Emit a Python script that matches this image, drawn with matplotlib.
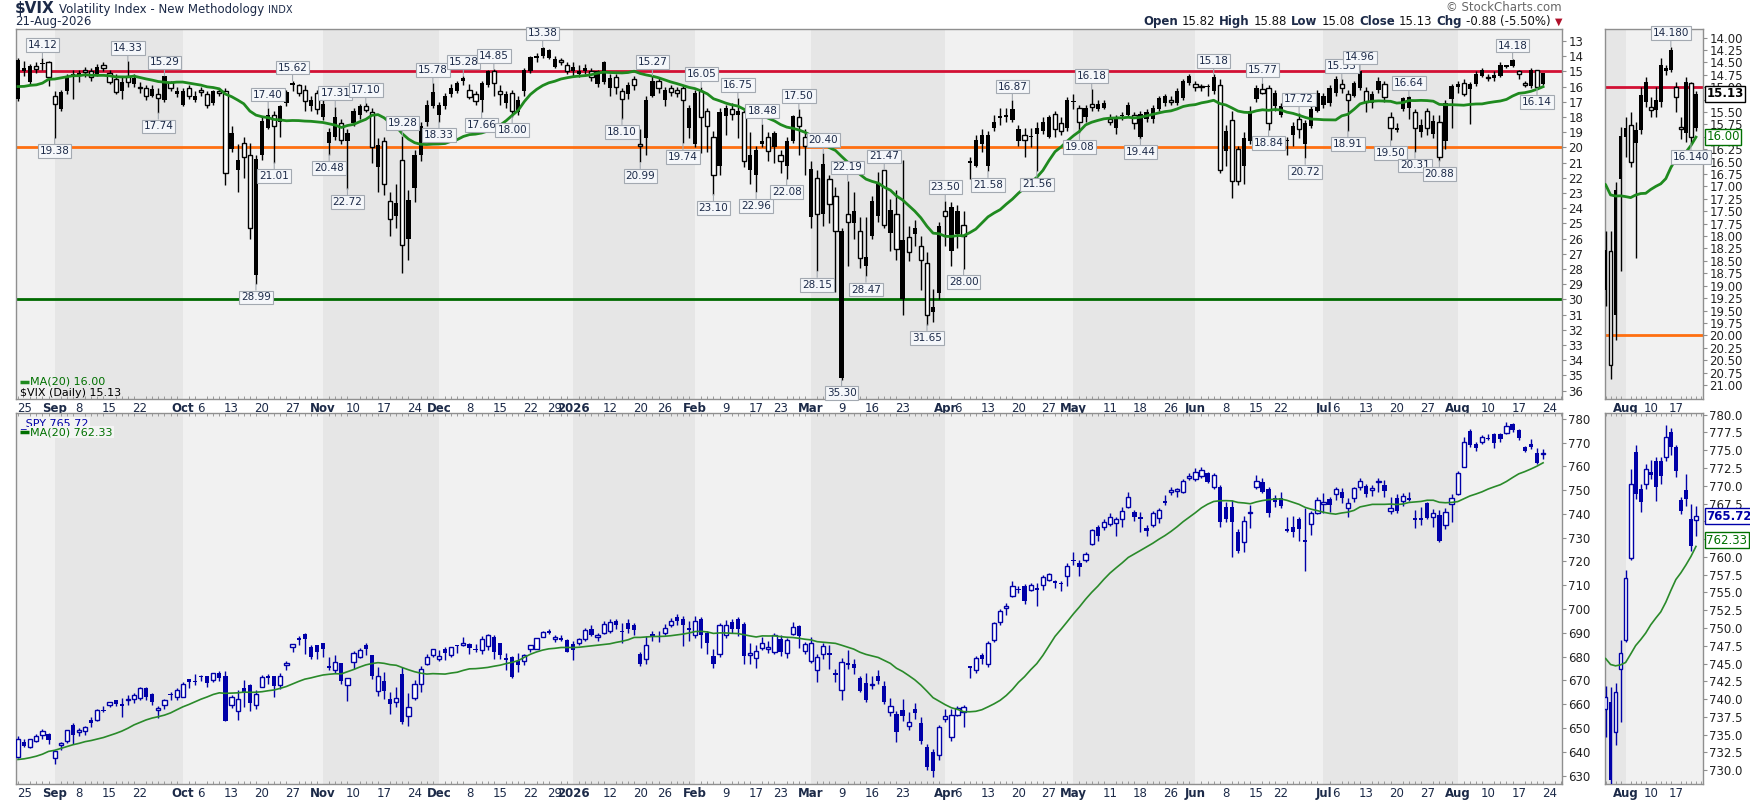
import numpy as np
import pandas as pd
import matplotlib
matplotlib.use("Agg")
import matplotlib.pyplot as plt

W, H = 1750, 800

# trading days on the chart: 22-Aug-2025 .. 21-Aug-2026
holidays = ["2025-09-01", "2025-11-27", "2025-12-25", "2026-01-01", "2026-01-19",
            "2026-02-16", "2026-04-03", "2026-05-25", "2026-06-19", "2026-07-03"]
days = pd.bdate_range("2025-08-22", "2026-08-21")
days = days[~days.isin(pd.to_datetime(holidays))]

# ---- $VIX daily candles ----
vix_open = [
    16.80, 15.00, 15.70, 14.62, 14.50, 14.40, 16.60, 17.50, 16.30, 15.40,
    15.30, 14.90, 15.00, 15.20, 14.60, 15.10, 15.50, 16.30, 15.30, 15.80,
    16.00, 16.10, 16.60, 16.50, 16.90, 15.70, 16.50, 17.20, 16.10, 16.90,
    16.20, 16.50, 17.10, 16.30, 16.30, 20.10, 21.50, 19.70, 20.50, 28.40,
    20.50, 18.70, 17.90, 18.30, 17.10, 15.90, 15.90, 16.20, 17.30, 16.40,
    18.00, 19.70, 19.30, 18.40, 19.60, 18.40, 17.90, 17.30, 17.70, 21.30,
    19.60, 23.50, 24.50, 20.80, 26.00, 22.70, 20.50, 18.30, 17.30, 17.90,
    17.30, 16.50, 16.30, 15.60, 16.20, 16.50, 16.90, 15.90, 14.95, 16.30,
    17.10, 16.40, 17.70, 16.30, 15.00, 14.10, 14.00, 14.10, 14.70, 14.30,
    14.60, 15.00, 15.15, 15.00, 14.99, 15.80, 15.70, 16.10, 15.40, 16.30,
    16.50, 15.50, 19.80, 19.40, 16.60, 15.65, 16.90, 16.10, 16.20, 16.10,
    18.70, 19.80, 16.30, 17.60, 19.30, 21.20, 17.95, 17.50, 17.90, 17.70,
    21.50, 21.80, 19.80, 19.30, 20.00, 20.50, 21.20, 19.55, 18.00, 19.30,
    24.60, 22.00, 24.40, 22.10, 23.20, 35.20, 24.40, 25.00, 25.50, 27.80,
    25.80, 24.50, 21.50, 25.60, 24.40, 30.00, 25.90, 25.70, 26.50, 27.60,
    30.80, 29.60, 24.20, 26.80, 25.70, 25.10, 21.00, 21.20, 19.80, 21.20,
    18.70, 18.00, 18.00, 18.20, 19.60, 19.20, 19.30, 19.10, 18.90, 19.30,
    17.80, 18.40, 18.70, 17.00, 17.40, 18.00, 17.14, 17.50, 17.40, 18.15,
    18.70, 17.95, 17.90, 17.90, 19.30, 18.10, 18.10, 17.50, 17.10, 16.85,
    17.10, 16.75, 15.75, 15.80, 16.00, 16.00, 16.30, 15.90, 20.25, 18.20,
    20.10, 21.20, 19.60, 16.80, 16.15, 16.10, 17.30, 17.90, 19.60, 19.20,
    18.10, 19.80, 18.60, 17.60, 17.20, 17.10, 16.40, 15.80, 16.50, 16.60,
    16.10, 16.30, 17.10, 16.20, 15.80, 18.00, 18.85, 17.50, 17.40, 17.70,
    19.00, 17.60, 19.09, 18.30, 19.59, 16.84, 16.00, 15.76, 16.13, 15.86,
    15.29, 15.39, 15.45, 15.29, 14.68, 14.65, 14.99, 15.80, 15.93, 14.92,
    15.82]
vix_high = [
    16.95, 15.30, 15.90, 15.10, 14.90, 15.98, 19.38, 17.60, 16.50, 16.80,
    15.70, 15.40, 15.60, 15.30, 15.00, 15.80, 16.50, 16.80, 16.00, 16.00,
    16.40, 16.90, 16.70, 17.74, 17.00, 16.30, 16.70, 17.30, 16.80, 17.00,
    16.60, 17.40, 17.20, 16.60, 22.44, 20.30, 22.90, 22.00, 26.00, 28.99,
    20.80, 18.80, 21.01, 19.30, 17.30, 16.30, 16.60, 17.60, 17.60, 17.80,
    18.20, 20.48, 19.50, 19.80, 22.72, 18.60, 18.10, 17.70, 21.00, 22.90,
    23.10, 25.80, 25.30, 28.27, 27.40, 23.60, 20.90, 18.60, 17.40, 18.33,
    17.50, 16.70, 16.40, 15.90, 16.80, 17.20, 17.66, 16.00, 16.60, 17.20,
    17.40, 18.00, 17.90, 16.60, 15.10, 14.40, 14.10, 14.20, 14.80, 14.60,
    15.20, 15.30, 15.40, 15.20, 15.60, 16.00, 15.80, 16.60, 16.50, 18.10,
    16.80, 16.20, 20.99, 20.50, 16.70, 16.40, 17.30, 16.60, 16.70, 19.74,
    19.40, 20.00, 20.40, 20.30, 23.10, 21.80, 19.20, 18.20, 19.40, 21.30,
    22.40, 22.96, 20.00, 20.90, 21.00, 21.70, 22.08, 19.70, 20.50, 21.80,
    25.30, 28.15, 25.20, 25.00, 29.50, 35.30, 27.80, 26.00, 27.90, 28.47,
    26.00, 24.90, 25.30, 26.80, 27.40, 31.00, 27.50, 26.50, 29.40, 31.65,
    31.50, 30.00, 26.50, 27.80, 26.60, 28.00, 22.10, 21.30, 20.30, 21.58,
    18.90, 18.50, 18.30, 18.30, 19.90, 20.60, 20.00, 21.56, 19.10, 19.40,
    19.30, 19.20, 18.90, 17.50, 19.08, 18.30, 17.60, 17.60, 17.50, 18.50,
    19.10, 18.20, 18.00, 18.80, 19.44, 18.30, 18.40, 17.60, 17.30, 17.20,
    17.20, 16.90, 15.90, 16.30, 16.30, 16.60, 16.50, 21.70, 21.20, 23.30,
    22.50, 22.40, 19.80, 17.00, 16.50, 18.84, 17.60, 18.00, 20.50, 19.90,
    19.40, 20.72, 18.70, 17.70, 17.40, 17.30, 16.60, 16.40, 18.91, 16.70,
    16.20, 17.70, 17.40, 16.40, 17.00, 19.50, 19.00, 17.60, 18.10, 20.31,
    19.30, 19.20, 19.40, 20.88, 20.10, 18.70, 16.40, 16.60, 18.45, 15.95,
    15.40, 15.60, 15.60, 15.40, 14.75, 14.70, 15.50, 16.05, 16.10, 16.14,
    15.88]
vix_low = [
    14.10, 14.30, 14.50, 14.40, 14.12, 14.30, 16.30, 16.20, 15.20, 14.90,
    14.90, 14.70, 14.80, 14.50, 14.40, 14.90, 15.20, 15.40, 14.33, 15.20,
    15.70, 15.90, 15.90, 16.10, 15.29, 15.60, 16.00, 16.10, 15.90, 16.30,
    16.00, 16.30, 16.20, 16.10, 16.10, 18.60, 19.80, 19.30, 19.70, 20.50,
    18.00, 17.40, 17.60, 17.20, 16.20, 15.62, 15.80, 15.90, 16.60, 16.20,
    16.80, 18.70, 17.31, 18.10, 18.80, 17.40, 17.15, 17.10, 17.40, 19.40,
    19.30, 22.90, 22.40, 19.28, 22.80, 20.20, 18.30, 16.90, 15.78, 17.00,
    16.40, 15.80, 15.60, 15.28, 15.80, 16.30, 15.60, 14.90, 14.85, 15.90,
    16.30, 16.20, 16.60, 14.80, 14.00, 13.80, 13.38, 13.50, 14.00, 14.10,
    14.40, 14.40, 14.60, 14.50, 14.80, 14.90, 14.30, 15.20, 15.20, 16.10,
    15.70, 15.30, 18.80, 16.60, 15.27, 15.40, 16.00, 15.90, 16.00, 15.90,
    17.20, 16.20, 16.05, 17.40, 18.90, 17.40, 17.20, 17.10, 16.75, 17.40,
    19.00, 19.90, 18.48, 19.00, 18.90, 20.20, 19.30, 17.90, 17.50, 18.80,
    20.90, 21.50, 20.40, 21.80, 22.60, 25.30, 22.19, 22.90, 24.60, 24.60,
    23.20, 21.60, 21.47, 23.40, 22.80, 20.80, 25.20, 24.80, 25.80, 26.90,
    29.30, 24.90, 23.50, 23.60, 23.80, 24.20, 20.60, 19.20, 18.80, 18.90,
    17.90, 17.40, 17.40, 16.87, 18.50, 18.70, 18.70, 18.30, 18.00, 17.90,
    17.60, 18.00, 16.70, 16.50, 17.20, 17.20, 16.18, 16.90, 16.90, 17.80,
    17.90, 17.70, 17.00, 17.70, 17.60, 17.50, 17.20, 16.60, 16.50, 16.60,
    16.10, 15.50, 15.20, 15.60, 15.80, 15.80, 15.18, 15.50, 18.50, 17.60,
    19.90, 19.00, 17.30, 15.90, 15.77, 15.90, 16.20, 17.10, 19.30, 18.30,
    17.72, 18.20, 17.10, 16.20, 16.40, 15.90, 15.30, 15.53, 16.20, 15.60,
    14.96, 16.00, 16.30, 15.40, 15.60, 17.70, 18.40, 16.70, 16.64, 17.50,
    18.10, 17.40, 17.90, 17.90, 16.90, 15.80, 15.60, 15.50, 15.70, 15.00,
    14.80, 15.20, 15.00, 14.40, 14.55, 14.18, 14.90, 15.60, 14.80, 14.90,
    15.08]
vix_close = [
    14.22, 14.79, 14.62, 14.85, 14.43, 15.36, 17.17, 16.35, 15.30, 15.18,
    15.11, 15.04, 15.35, 14.71, 14.76, 15.69, 16.36, 15.72, 15.70, 15.45,
    16.10, 16.64, 16.18, 16.74, 15.29, 16.12, 16.28, 16.29, 16.63, 16.65,
    16.37, 17.24, 16.30, 16.43, 21.66, 19.03, 20.81, 20.64, 25.31, 20.78,
    18.23, 17.87, 18.60, 17.30, 16.37, 15.79, 16.42, 16.92, 16.91, 17.44,
    17.17, 19.00, 18.01, 19.50, 19.08, 17.60, 17.28, 17.51, 20.00, 19.83,
    22.38, 24.69, 23.66, 26.42, 23.43, 20.52, 18.56, 17.19, 16.35, 17.24,
    16.59, 16.08, 15.78, 15.41, 16.66, 16.93, 15.77, 14.95, 15.74, 16.50,
    16.48, 17.62, 16.87, 14.91, 14.08, 14.00, 13.47, 13.60, 14.20, 14.33,
    14.95, 14.70, 14.95, 14.80, 15.40, 15.00, 14.40, 15.45, 16.00, 16.80,
    15.90, 15.90, 19.90, 16.85, 15.65, 16.10, 16.20, 16.35, 16.40, 16.85,
    17.40, 16.40, 18.00, 18.60, 21.80, 17.70, 17.40, 17.80, 17.60, 20.90,
    20.50, 20.20, 19.60, 20.25, 19.05, 20.90, 19.55, 17.95, 18.60, 19.90,
    21.40, 24.40, 21.10, 23.70, 25.50, 25.50, 24.90, 24.20, 27.30, 27.20,
    23.50, 22.40, 25.10, 24.10, 26.70, 26.10, 26.90, 25.30, 27.40, 31.00,
    30.50, 25.20, 24.50, 23.90, 24.20, 25.80, 20.90, 19.50, 19.20, 19.20,
    18.35, 18.00, 17.90, 17.50, 18.80, 19.50, 19.30, 18.70, 18.30, 18.00,
    18.80, 18.90, 16.90, 16.95, 18.30, 17.40, 17.36, 17.14, 17.10, 18.30,
    18.05, 17.85, 17.20, 18.40, 17.80, 17.70, 17.40, 16.75, 16.60, 17.00,
    16.30, 15.65, 15.30, 16.05, 16.02, 15.95, 15.40, 21.50, 18.95, 22.20,
    22.20, 19.40, 17.60, 16.10, 16.40, 18.40, 16.40, 17.30, 19.50, 18.60,
    18.80, 18.40, 17.50, 16.40, 16.60, 16.10, 15.50, 16.10, 16.90, 15.75,
    15.00, 17.00, 16.50, 15.60, 16.70, 18.70, 18.70, 16.75, 16.70, 18.70,
    18.50, 18.70, 18.28, 20.60, 17.08, 15.99, 15.83, 16.50, 15.86, 15.16,
    14.89, 15.46, 15.26, 14.55, 14.62, 14.25, 15.19, 15.85, 14.89, 16.01,
    15.13]
# closes of the 19 sessions before the window (for the first MA values)
vix_prev_close = [15.03, 15.98, 15.48, 16.72, 20.38, 17.52, 17.85, 16.77, 16.57, 15.15,
                  16.25, 14.73, 14.49, 14.83, 15.09, 14.99, 15.57, 15.69, 16.60]

# ---- SPY daily candles ----
spy_open = [
    637.8, 644.0, 642.2, 644.6, 647.2, 647.5, 637.5, 642.7, 644.4, 651.5,
    648.6, 648.7, 653.6, 653.6, 657.6, 659.6, 661.6, 660.0, 661.7, 662.3,
    662.8, 666.7, 664.5, 657.9, 659.5, 664.4, 662.9, 663.2, 670.5, 669.9,
    671.7, 672.0, 670.0, 673.3, 672.0, 659.6, 657.2, 666.8, 668.0, 659.5,
    667.3, 671.5, 672.0, 668.1, 676.5, 684.0, 688.0, 689.5, 683.9, 685.0,
    685.7, 676.1, 674.2, 677.3, 667.9, 677.9, 679.9, 685.0, 680.5, 665.4,
    669.6, 662.1, 660.8, 672.9, 655.0, 662.7, 668.6, 677.0, 680.7, 679.1,
    683.1, 680.5, 685.0, 685.0, 685.5, 683.1, 683.0, 684.5, 688.2, 685.7,
    679.2, 679.9, 678.0, 678.3, 683.2, 683.4, 688.3, 690.5, 687.7, 688.0,
    687.0, 685.5, 685.9, 687.3, 691.5, 688.2, 690.0, 691.0, 695.0, 691.0,
    694.0, 693.4, 681.3, 679.2, 689.6, 688.6, 689.8, 693.5, 696.6, 695.9,
    692.0, 689.1, 695.9, 690.0, 680.3, 681.0, 689.1, 694.5, 695.9, 693.8,
    681.0, 679.3, 683.5, 683.2, 682.0, 687.5, 681.7, 689.6, 692.8, 682.4,
    678.2, 674.4, 681.3, 681.7, 673.0, 666.1, 677.5, 677.1, 671.0, 669.1,
    668.0, 671.9, 667.7, 656.6, 655.9, 657.7, 651.0, 658.2, 652.0, 642.2,
    639.8, 638.5, 653.8, 646.1, 655.6, 656.6, 676.1, 674.4, 680.6, 676.8,
    686.9, 694.5, 700.4, 705.4, 708.5, 709.6, 708.2, 708.9, 710.3, 712.4,
    711.5, 711.0, 714.0, 720.5, 719.3, 720.7, 727.4, 734.3, 734.3, 735.7,
    736.1, 737.8, 743.1, 741.0, 738.9, 734.0, 735.4, 738.2, 745.6, 749.3,
    749.6, 749.3, 755.4, 754.5, 756.0, 757.3, 751.4, 751.4, 742.8, 742.8,
    732.6, 728.0, 740.3, 751.1, 753.5, 750.4, 746.7, 746.5, 733.3, 734.4,
    737.9, 728.7, 735.8, 740.5, 744.4, 746.2, 748.2, 749.3, 742.3, 746.5,
    751.4, 751.8, 749.9, 753.6, 752.1, 741.4, 746.5, 745.6, 746.3, 738.2,
    738.3, 744.4, 738.6, 739.6, 735.4, 744.2, 748.3, 759.8, 774.8, 769.5,
    770.2, 771.9, 773.5, 773.5, 774.0, 777.6, 775.4, 768.0, 769.4, 765.4,
    765.2]
spy_high = [
    646.5, 645.3, 645.5, 647.4, 649.5, 647.8, 640.5, 644.2, 649.2, 652.2,
    649.9, 650.9, 654.6, 658.0, 659.1, 661.0, 661.8, 662.8, 664.0, 664.6,
    667.3, 667.3, 664.6, 659.3, 662.4, 665.3, 666.7, 669.4, 670.6, 672.7,
    672.5, 672.0, 673.2, 673.9, 673.9, 664.0, 665.8, 670.2, 668.7, 665.8,
    672.2, 672.8, 672.0, 673.1, 678.0, 685.5, 688.9, 690.1, 685.0, 685.1,
    685.8, 679.9, 680.9, 677.4, 671.1, 682.2, 683.6, 685.6, 680.9, 675.7,
    673.7, 665.1, 667.3, 675.6, 664.6, 670.4, 676.2, 681.0, 683.3, 682.9,
    684.0, 684.0, 685.0, 688.4, 685.9, 685.2, 688.9, 689.4, 689.0, 685.8,
    681.6, 680.2, 681.7, 681.2, 684.8, 688.0, 690.7, 691.7, 689.0, 689.3,
    687.4, 686.6, 688.0, 692.0, 693.2, 690.0, 694.9, 695.9, 696.0, 694.0,
    696.0, 694.3, 682.0, 688.7, 691.0, 690.6, 693.7, 696.2, 698.0, 697.0,
    695.0, 697.0, 696.5, 691.0, 683.1, 694.3, 695.3, 696.0, 696.7, 694.5,
    685.9, 685.0, 688.4, 686.5, 690.0, 689.0, 688.0, 694.6, 693.5, 686.2,
    688.4, 681.0, 685.9, 684.9, 674.8, 679.6, 682.8, 679.2, 672.0, 673.3,
    671.9, 674.4, 669.8, 662.8, 657.0, 662.4, 656.9, 660.7, 654.5, 643.1,
    641.0, 651.4, 658.2, 658.2, 659.4, 659.7, 676.1, 680.3, 681.7, 686.5,
    694.6, 700.0, 702.5, 711.7, 709.6, 710.6, 711.0, 711.0, 714.5, 715.2,
    712.4, 711.7, 719.3, 724.2, 720.7, 724.2, 733.8, 735.4, 737.8, 740.3,
    738.5, 743.1, 749.1, 741.7, 740.7, 735.4, 741.4, 742.5, 747.9, 751.4,
    750.7, 754.8, 757.0, 759.1, 759.5, 757.7, 757.3, 752.0, 745.1, 745.8,
    733.8, 739.3, 743.6, 756.2, 754.9, 751.4, 748.0, 749.3, 738.9, 739.1,
    738.5, 742.3, 741.3, 747.2, 748.6, 747.2, 751.4, 750.7, 746.5, 751.5,
    755.0, 752.5, 752.1, 754.9, 754.2, 746.9, 748.2, 748.6, 749.3, 741.7,
    743.0, 745.1, 741.9, 741.7, 742.3, 748.3, 758.1, 772.3, 775.8, 770.2,
    773.0, 773.7, 774.0, 774.0, 778.6, 778.2, 775.8, 768.4, 771.6, 767.5,
    767.1]
spy_low = [
    637.3, 641.9, 641.6, 644.2, 645.5, 643.1, 634.9, 640.9, 643.7, 643.3,
    646.5, 647.2, 650.6, 652.9, 656.9, 658.8, 659.1, 654.7, 659.8, 660.4,
    662.0, 661.9, 659.7, 654.4, 657.9, 661.9, 661.6, 663.1, 666.8, 668.2,
    669.6, 667.4, 669.4, 669.7, 652.8, 658.3, 653.2, 658.9, 657.1, 658.1,
    667.3, 668.6, 663.2, 666.5, 674.4, 682.1, 684.8, 681.2, 679.2, 679.2,
    679.9, 674.6, 673.2, 668.6, 661.2, 675.0, 679.4, 680.9, 670.5, 663.6,
    662.2, 655.9, 658.7, 651.9, 650.8, 661.6, 665.1, 676.5, 680.0, 678.0,
    678.5, 680.0, 681.5, 684.3, 681.0, 681.8, 681.0, 683.0, 679.1, 679.0,
    674.5, 671.2, 673.6, 676.3, 681.9, 683.1, 688.2, 689.5, 686.3, 686.7,
    681.8, 678.5, 685.0, 686.5, 688.5, 686.5, 689.5, 690.0, 691.5, 685.8,
    690.0, 689.0, 676.0, 677.0, 686.5, 686.0, 689.0, 692.5, 693.2, 684.5,
    686.6, 688.0, 683.8, 681.0, 675.1, 680.0, 688.0, 690.0, 688.7, 676.8,
    676.8, 675.1, 682.8, 681.4, 681.0, 680.3, 679.3, 689.0, 683.8, 681.0,
    677.2, 669.4, 678.9, 675.0, 669.4, 661.9, 674.7, 672.6, 665.0, 661.0,
    666.3, 668.4, 660.0, 654.9, 644.0, 653.1, 649.3, 653.8, 643.5, 632.2,
    629.4, 636.5, 652.7, 644.7, 654.9, 650.3, 671.0, 673.3, 676.8, 675.8,
    686.0, 693.5, 697.7, 705.0, 706.8, 702.0, 707.5, 701.5, 708.2, 711.7,
    708.9, 707.8, 709.9, 718.6, 714.0, 719.8, 726.8, 728.7, 733.4, 735.0,
    730.8, 734.7, 742.5, 737.2, 732.6, 730.8, 734.5, 736.1, 743.7, 747.9,
    747.2, 748.6, 754.2, 754.0, 754.9, 752.8, 750.3, 734.7, 736.8, 721.7,
    723.5, 723.8, 734.0, 750.3, 748.6, 738.5, 743.1, 742.4, 732.6, 730.2,
    728.8, 715.8, 731.2, 740.0, 740.3, 740.7, 746.0, 744.4, 738.9, 745.0,
    750.0, 747.0, 747.7, 749.3, 747.2, 740.0, 740.3, 743.3, 745.6, 734.0,
    735.4, 737.8, 734.7, 728.1, 733.6, 736.8, 748.0, 759.5, 768.2, 766.3,
    769.5, 770.9, 767.9, 770.2, 773.5, 774.4, 771.2, 766.0, 767.2, 760.8,
    762.9]
spy_close = [
    645.3, 642.5, 645.2, 646.8, 648.9, 645.1, 640.3, 643.7, 649.1, 647.2,
    648.8, 650.3, 652.2, 657.6, 657.4, 660.9, 660.0, 659.2, 662.3, 663.7,
    666.8, 663.2, 661.1, 658.1, 661.8, 663.7, 666.2, 668.5, 669.2, 669.2,
    671.6, 669.1, 673.1, 671.2, 653.0, 663.0, 662.2, 665.2, 660.6, 664.4,
    671.3, 671.3, 667.8, 671.8, 677.3, 685.2, 687.1, 687.4, 679.8, 682.1,
    683.3, 675.2, 677.6, 669.9, 671.0, 681.4, 683.0, 683.4, 672.0, 671.9,
    665.7, 660.1, 662.6, 652.5, 659.0, 668.7, 675.0, 679.7, 683.4, 680.3,
    681.5, 683.9, 684.4, 685.7, 683.6, 683.0, 687.6, 689.2, 681.8, 680.7,
    678.9, 671.4, 676.5, 680.6, 684.8, 688.0, 690.4, 690.3, 687.9, 687.0,
    681.9, 683.0, 687.3, 691.2, 689.0, 689.2, 693.7, 694.6, 693.3, 690.3,
    691.6, 691.2, 676.8, 684.9, 688.2, 688.2, 692.0, 695.0, 695.0, 693.5,
    691.3, 695.0, 689.1, 685.9, 676.8, 693.4, 693.3, 691.5, 691.5, 680.3,
    681.4, 682.5, 685.9, 684.1, 689.1, 682.0, 687.0, 692.4, 688.7, 685.4,
    685.9, 679.9, 684.5, 680.7, 672.5, 677.8, 676.5, 675.4, 665.6, 661.9,
    668.4, 669.8, 660.8, 659.4, 648.2, 655.2, 652.7, 656.3, 644.4, 633.6,
    631.8, 650.3, 654.9, 655.5, 658.4, 659.0, 675.4, 679.3, 678.9, 685.9,
    694.0, 699.4, 701.5, 709.6, 708.2, 703.3, 710.3, 707.9, 713.5, 714.7,
    711.2, 710.7, 718.0, 720.3, 717.5, 723.1, 733.3, 730.8, 736.8, 738.5,
    737.8, 741.4, 747.2, 738.6, 738.0, 732.9, 740.5, 741.7, 744.4, 750.0,
    750.3, 753.9, 755.6, 757.7, 758.4, 753.5, 756.4, 736.8, 737.8, 736.4,
    724.6, 737.2, 740.8, 753.8, 749.3, 740.3, 745.1, 743.3, 733.0, 732.6,
    733.6, 728.4, 740.3, 745.8, 744.9, 743.7, 750.3, 746.8, 744.7, 751.0,
    753.8, 748.3, 751.0, 753.8, 749.6, 742.6, 741.2, 747.5, 746.1, 737.5,
    737.6, 738.2, 740.3, 728.7, 741.0, 746.5, 757.0, 770.2, 768.8, 767.7,
    772.3, 771.5, 769.8, 771.4, 776.8, 775.4, 772.1, 766.5, 768.1, 761.5,
    765.72]
spy_prev_close = [636.9, 635.3, 634.5, 632.1, 621.7, 631.2, 628.0, 632.8, 632.3, 637.2,
                  635.9, 642.7, 644.9, 645.0, 643.4, 643.3, 639.8, 638.1, 635.6]

# sessions that carry a high/low tag on the VIX panel
low_mark_day = [4, 18, 24, 41, 45, 52, 57, 63, 68, 73, 78, 86, 104, 112, 118, 122, 128,
                132, 136, 142, 152, 163, 176, 196, 204, 210, 217, 220, 228, 245]
high_mark_day = [6, 23, 39, 42, 51, 54, 69, 76, 81, 99, 102, 109, 114, 121, 126, 131, 135,
                 139, 149, 155, 159, 167, 174, 184, 205, 211, 218, 225, 229, 233, 249]

tick_dates = ["2025-08-25", "2025-09-02", "2025-09-08", "2025-09-15", "2025-09-22",
              "2025-10-01", "2025-10-06", "2025-10-13", "2025-10-20", "2025-10-27",
              "2025-11-03", "2025-11-10", "2025-11-17", "2025-11-24", "2025-12-01",
              "2025-12-08", "2025-12-15", "2025-12-22", "2025-12-29", "2026-01-02",
              "2026-01-12", "2026-01-20", "2026-01-26", "2026-02-02", "2026-02-09",
              "2026-02-17", "2026-02-23", "2026-03-02", "2026-03-09", "2026-03-16",
              "2026-03-23", "2026-04-01", "2026-04-06", "2026-04-13", "2026-04-20",
              "2026-04-27", "2026-05-01", "2026-05-11", "2026-05-18", "2026-05-26",
              "2026-06-01", "2026-06-08", "2026-06-15", "2026-06-22", "2026-07-01",
              "2026-07-06", "2026-07-13", "2026-07-20", "2026-07-27", "2026-08-03",
              "2026-08-10", "2026-08-17", "2026-08-24"]
tick_text = ["25", "Sep", "8", "15", "22", "Oct", "6", "13", "20", "27", "Nov", "10", "17",
             "24", "Dec", "8", "15", "22", "29", "2026", "12", "20", "26", "Feb", "9", "17",
             "23", "Mar", "9", "16", "23", "Apr", "6", "13", "20", "27", "May", "11", "18",
             "26", "Jun", "8", "15", "22", "Jul", "6", "13", "20", "27", "Aug", "10", "17", "24"]

vix_o, vix_h, vix_l, vix_c = map(np.array, (vix_open, vix_high, vix_low, vix_close))
spy_o, spy_h, spy_l, spy_c = map(np.array, (spy_open, spy_high, spy_low, spy_close))
vix_ma = pd.Series(np.r_[vix_prev_close, vix_c]).rolling(20).mean().values[19:]
spy_ma = pd.Series(np.r_[spy_prev_close, spy_c]).rolling(20).mean().values[19:]
n = len(days)

NAVY = "#1c2a48"
GREEN_MA = "#1f8a1f"
SPY_BLUE = "#0000a8"

fig = plt.figure(figsize=(W / 100, H / 100), dpi=100)
fig.patch.set_facecolor("white")


def px_axes(x0, y0, x1, y1):
    return fig.add_axes([x0 / W, 1 - y1 / H, (x1 - x0) / W, (y1 - y0) / H])


ax_vix = px_axes(15.6, 29, 1562, 399)
ax_spy = px_axes(15.6, 413, 1562, 784)
ax_vix_s = px_axes(1605, 29, 1703, 399)
ax_spy_s = px_axes(1605, 413, 1703, 784)


def draw_candles(ax, o, h, l, c, color, width, min_h):
    x = np.arange(len(o))
    ax.vlines(x, l, h, color=color, lw=1, zorder=3)
    lo = np.minimum(o, c)
    ht = np.abs(c - o)
    tiny = ht < min_h
    lo = np.where(tiny, (o + c) / 2 - min_h / 2, lo)
    ht = np.where(tiny, min_h, ht)
    up = c > o
    ax.bar(x[up], ht[up], width, lo[up], facecolor="white", edgecolor=color,
           linewidth=1, zorder=4)
    ax.bar(x[~up], ht[~up], width, lo[~up], color=color, linewidth=0, zorder=4)


# month shading
month_start = np.flatnonzero(np.r_[True, days.month[1:] != days.month[:-1]])
edges = [-5.0] + list(month_start[1:]) + [n + 10]
tick_pos = days.searchsorted(pd.to_datetime(tick_dates))

for ax in (ax_vix, ax_spy, ax_vix_s, ax_spy_s):
    for k in range(len(edges) - 1):
        ax.axvspan(edges[k], edges[k + 1], color="#f1f1f1" if k % 2 == 0 else "#e6e6e6",
                   lw=0, zorder=0)
    for s in ax.spines.values():
        s.set_color("#8f8f8f")
        s.set_linewidth(1)
    ax.yaxis.tick_right()
    ax.tick_params(axis="y", direction="out", length=3, width=0.8, color="#8f8f8f",
                   labelsize=8.5, labelcolor="#222222", pad=1.5)
    ax.set_xticks(np.arange(n + 3), minor=True)
    small = ax in (ax_vix_s, ax_spy_s)
    keep = tick_pos < n if small else tick_pos >= 0
    ax.set_xticks(tick_pos[keep])
    ax.set_xticklabels([t for t, k in zip(tick_text, keep) if k])
    ax.tick_params(axis="x", which="major", length=0, pad=2, labelsize=8.5,
                   labelcolor=NAVY)
    ax.tick_params(axis="x", which="minor", direction="in", length=2, width=0.7,
                   color="#9a9a9a")
    for lab in ax.get_xticklabels():
        if not lab.get_text().isdigit() or lab.get_text() == "2026":
            lab.set_fontweight("bold")

for ax in (ax_spy, ax_spy_s):
    ax.tick_params(axis="x", which="minor", top=True, bottom=True)

# ---- VIX panels ----
for ax in (ax_vix, ax_vix_s):
    draw_candles(ax, vix_o, vix_h, vix_l, vix_c, "black", 0.7 if ax is ax_vix else 0.75,
                 0.08 if ax is ax_vix else 0.025)
    ax.plot(np.arange(n), vix_ma, color=GREEN_MA, lw=2, zorder=5)
    ax.axhline(15, color="#d21034", lw=2, zorder=2)
    ax.axhline(20, color="#ff6f10", lw=2, zorder=2)
    ax.axhline(30, color="#006a00", lw=2, zorder=2)

ax_vix.set_xlim(-0.4, 253.1)
ax_vix.set_ylim(36.55, 12.21)
ax_vix.set_yticks(range(13, 37))

ax_vix_s.set_xlim(231.9, 251.4)
ax_vix_s.set_ylim(21.284, 13.825)
vix_s_ticks = np.arange(14, 21.01, 0.25)
ax_vix_s.set_yticks(vix_s_ticks)
# labels hidden behind the price boxes
ax_vix_s.set_yticklabels(["" if v in (15.25, 16.0) else f"{v:.2f}" for v in vix_s_ticks])

tag_box = dict(boxstyle="square,pad=0.18", fc="#f5f7fa", ec="#a3a9b1", lw=0.8)
tag_arrow = dict(arrowstyle="-", color="#a3a9b1", lw=0.8, shrinkA=0, shrinkB=0)


def tag(ax, j, val, up, fmt):
    ax.annotate(fmt.format(val), (j, val), xytext=(0, 6 if up else -6),
                textcoords="offset points", ha="center", va="bottom" if up else "top",
                fontsize=7.5, color=NAVY, bbox=tag_box, arrowprops=tag_arrow,
                zorder=7, annotation_clip=True)


for j in low_mark_day:
    tag(ax_vix, j, vix_l[j], True, "{:.2f}")
for j in high_mark_day:
    tag(ax_vix, j, vix_h[j], False, "{:.2f}")
tag(ax_vix_s, 245, vix_l[245], True, "{:.3f}")
tag(ax_vix_s, 249, vix_h[249], False, "{:.3f}")

# legend of the VIX panel
ax_vix.plot([0.003, 0.0085], [0.046, 0.046], transform=ax_vix.transAxes, color=GREEN_MA,
            lw=2.5, solid_capstyle="butt", zorder=8)
ax_vix.text(0.0095, 0.046, "MA(20) 16.00", transform=ax_vix.transAxes, color="#007000",
            fontsize=8, va="center", zorder=8)
ax_vix.text(0.003, 0.017, "$VIX (Daily) 15.13", transform=ax_vix.transAxes, color="black",
            fontsize=8, va="center", zorder=8)

# ---- SPY panels ----
for ax in (ax_spy, ax_spy_s):
    draw_candles(ax, spy_o, spy_h, spy_l, spy_c, SPY_BLUE, 0.7 if ax is ax_spy else 0.75,
                 0.6 if ax is ax_spy else 0.2)
    ax.plot(np.arange(n), spy_ma, color="#2a8a2a", lw=1.2, zorder=5)

ax_spy.set_xlim(-0.4, 253.1)
ax_spy.set_ylim(626.5, 782.4)
ax_spy.set_yticks(range(630, 781, 10))

ax_spy_s.set_xlim(231.9, 251.4)
ax_spy_s.set_ylim(728.07, 780.24)
spy_s_ticks = np.arange(730, 780.01, 2.5)
ax_spy_s.set_yticks(spy_s_ticks)
ax_spy_s.set_yticklabels(["" if v in (762.5, 765.0) else f"{v:.1f}" for v in spy_s_ticks])

ax_spy.text(0.003, 0.985, "_SPY 765.72", transform=ax_spy.transAxes, color=SPY_BLUE,
            fontsize=8, va="top", zorder=8,
            bbox=dict(boxstyle="square,pad=0.1", fc="#f4f4f4", ec="none"))
ax_spy.plot([0.003, 0.0085], [0.948, 0.948], transform=ax_spy.transAxes, color="#007000",
            lw=2.5, solid_capstyle="butt", zorder=9)
ax_spy.text(0.0095, 0.948, "MA(20) 762.33", transform=ax_spy.transAxes, color="#007000",
            fontsize=8, va="center", zorder=8,
            bbox=dict(boxstyle="square,pad=0.1", fc="#f4f4f4", ec="none"))


def price_box(ax, val, text, edge, color, bold):
    ax.annotate(text, (1, val), xycoords=ax.get_yaxis_transform(), xytext=(2.5, 0),
                textcoords="offset points", ha="left", va="center", fontsize=8.5,
                color=color, fontweight="bold" if bold else "normal", zorder=10,
                annotation_clip=False,
                bbox=dict(boxstyle="square,pad=0.12", fc="white", ec=edge, lw=1))


price_box(ax_vix_s, 15.13, "15.13", "black", "black", True)
price_box(ax_vix_s, 16.00, "16.00", "#007000", "#007000", False)
price_box(ax_spy_s, 765.72, "765.72", SPY_BLUE, SPY_BLUE, True)
price_box(ax_spy_s, 762.33, "762.33", "#007000", "#007000", False)

# ---- header ----
fig.canvas.draw()
renderer = fig.canvas.get_renderer()


def text_row(x_px, y_px, parts, right=False, gap=4):
    # y_px is the baseline of the row, in pixels from the top
    objs = [fig.text(0, 1 - y_px / H, s, va="baseline", **kw) for s, kw in parts]
    widths = [o.get_window_extent(renderer).width for o in objs]
    total = sum(widths) + gap * (len(objs) - 1)
    x = x_px - total if right else x_px
    for o, w in zip(objs, widths):
        o.set_x(x / W)
        x += w + gap


text_row(15, 13, [("$VIX", dict(fontsize=11, fontweight="bold", color=NAVY)),
                  ("Volatility Index - New Methodology", dict(fontsize=8.5, color=NAVY)),
                  ("INDX", dict(fontsize=7, color=NAVY))])
fig.text(15 / W, 1 - 25 / H, "21-Aug-2026", fontsize=8.5, color=NAVY, va="baseline")
fig.text(1562 / W, 1 - 11 / H, "\u00a9 StockCharts.com", fontsize=8.5, color="#666666",
         va="baseline", ha="right")
lbl = dict(fontsize=8.5, fontweight="bold", color=NAVY)
val = dict(fontsize=8.5, color="#111111")
text_row(1562, 25, [("Open", lbl), ("15.82", val), ("High", lbl), ("15.88", val),
                    ("Low", lbl), ("15.08", val), ("Close", lbl), ("15.13", val),
                    ("Chg", lbl), ("-0.88 (-5.50%)", val),
                    ("\u25bc", dict(fontsize=7, color="#b0102a"))], right=True)

fig.savefig("out.png", dpi=100)
